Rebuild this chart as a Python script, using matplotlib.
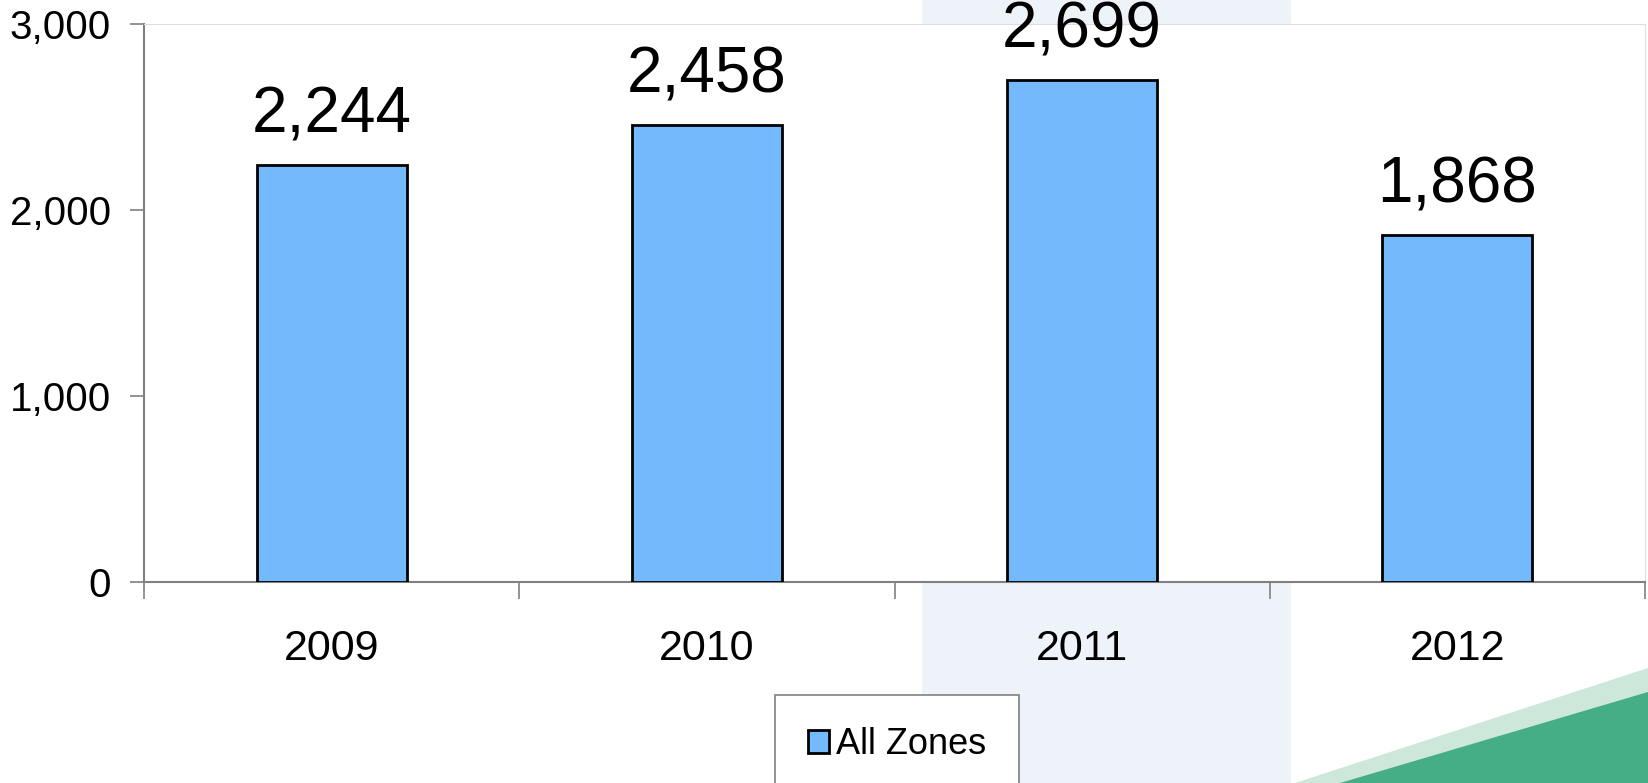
import matplotlib.pyplot as plt
from matplotlib.patches import Rectangle, Polygon
import numpy as np

plt.rcParams['font.family'] = ['Liberation Sans', 'DejaVu Sans']

years = ['2009', '2010', '2011', '2012']
values = [2244, 2458, 2699, 1868]
y_ticks = [0, 1000, 2000, 3000]

W, H = 1648, 783
fig = plt.figure(figsize=(W / 100, H / 100), dpi=100)

# фон слайда: бледная полоса и зелёный уголок (под осями)
fig.patches.append(Rectangle((922 / W, 0), (1291 - 922) / W, 1, transform=fig.transFigure,
                             facecolor='#EEF3FA', edgecolor='none', zorder=-2))
fig.patches.append(Polygon([(1295 / W, 0), (1, (H - 668) / H), (1, 0)], closed=True,
                           transform=fig.transFigure, facecolor='#CDE8DB', edgecolor='none', zorder=-2))
fig.patches.append(Polygon([(1340 / W, 0), (1, (H - 692) / H), (1, 0)], closed=True,
                           transform=fig.transFigure, facecolor='#45AE86', edgecolor='none', zorder=-1))

ax = fig.add_axes([144 / W, 1 - 582 / H, (1645 - 144) / W, (582 - 24) / H])
ax.set_facecolor('white')

x = np.arange(len(years))
bars = ax.bar(x, values, width=0.4, color='#75B9FD', edgecolor='black', linewidth=2,
              label='All Zones', zorder=3)
for xi, v in zip(x, values):
    ax.annotate(f'{v:,}', (xi, v), xytext=(0, 14), textcoords='offset points',
                ha='center', va='bottom', fontsize=46)

ax.set_xlim(-0.5, len(years) - 0.5)
ax.set_ylim(0, 3000)
ax.set_yticks(y_ticks)
ax.set_yticklabels([f'{t:,}' for t in y_ticks], fontsize=29)
ax.set_xticks(np.arange(len(years) + 1) - 0.5)
ax.set_xticklabels([])
ax.set_xticks(x, minor=True)
ax.set_xticklabels(years, minor=True, fontsize=31)
ax.tick_params(axis='x', which='minor', length=0, pad=34)
ax.tick_params(axis='x', which='major', length=12, color='#808080', width=1.2)
ax.tick_params(axis='y', length=10, color='#808080', width=1.2, pad=14)

for s in ['left', 'bottom']:
    ax.spines[s].set_color('#808080')
    ax.spines[s].set_linewidth(1.5)
for s in ['top', 'right']:
    ax.spines[s].set_color('#DDDDDD')

leg = fig.legend(handles=[bars], labels=['All Zones'], loc='upper left',
                 bbox_to_anchor=(775 / W, 1 - 695 / H), fontsize=26, frameon=True,
                 fancybox=False, edgecolor='#808080', handlelength=0.6, handleheight=0.6,
                 handletextpad=0.2, borderpad=0.9, borderaxespad=0, framealpha=1)
leg.get_frame().set_linewidth(1.2)

fig.savefig('out.png', dpi=100)
